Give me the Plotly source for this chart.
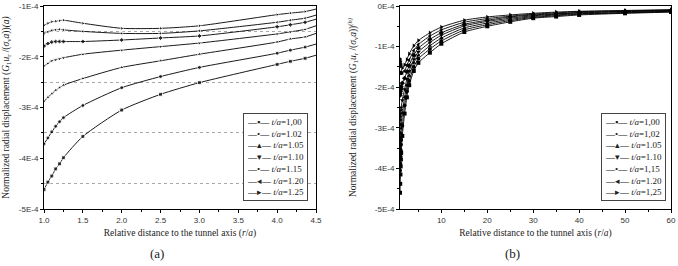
import plotly.graph_objects as go

# ---------------- data (values in units of 1E-4) ----------------
series_names = ["1,00", "1.02", "1.05", "1.10", "1.15", "1.20", "1.25"]
series_names_b = ["1,00", "1,02", "1.05", "1.10", "1,15", "1.20", "1,25"]
symbols = ["square", "circle", "triangle-up", "triangle-down", "diamond", "triangle-left", "triangle-right"]
legend_glyphs = ["▪", "•", "▴", "▾", "•", "◂", "▸"]

# panel (a)
xa = [1.0, 1.05, 1.1, 1.15, 1.2, 1.25, 1.5, 2.0, 2.5, 3.0, 4.0, 4.17, 4.36, 4.5]
ya_100 = [-4.62, -4.47, -4.35, -4.21, -4.11, -3.99, -3.57, -3.05, -2.74, -2.51, -2.15, -2.09, -2.03, -1.97]
ya_102 = [-3.72, -3.60, -3.48, -3.37, -3.28, -3.20, -2.96, -2.61, -2.39, -2.21, -1.93, -1.87, -1.81, -1.75]
ya_105 = [-2.88, -2.80, -2.73, -2.66, -2.61, -2.56, -2.43, -2.21, -2.08, -1.95, -1.71, -1.65, -1.61, -1.54]
ya_110 = [-2.18, -2.13, -2.08, -2.06, -2.04, -2.02, -1.95, -1.87, -1.80, -1.73, -1.55, -1.51, -1.46, -1.39]
ya_115 = [-1.79, -1.74, -1.71, -1.70, -1.70, -1.70, -1.70, -1.67, -1.63, -1.59, -1.41, -1.37, -1.32, -1.26]
ya_120 = [-1.54, -1.51, -1.48, -1.47, -1.46, -1.47, -1.50, -1.54, -1.54, -1.49, -1.32, -1.28, -1.24, -1.18]
ya_125 = [-1.38, -1.34, -1.31, -1.30, -1.29, -1.28, -1.34, -1.44, -1.44, -1.39, -1.17, -1.14, -1.11, -1.06]

# panel (b)
xb = [1.0, 1.05, 1.1, 1.15, 1.2, 1.25, 1.5, 2.0, 2.5, 3.0, 4.0, 5, 7.5, 10, 15, 20, 25, 30, 35, 40, 50, 60]
yb_100 = [-4.60, -4.38, -4.15, -3.95, -3.78, -3.62, -3.20, -2.65, -2.25, -1.95, -1.60, -1.40, -1.15, -0.93, -0.64, -0.50, -0.39, -0.30, -0.26, -0.22, -0.18, -0.15]
yb_102 = [-4.05, -3.88, -3.70, -3.55, -3.42, -3.30, -2.95, -2.45, -2.10, -1.85, -1.50, -1.30, -1.06, -0.86, -0.59, -0.46, -0.36, -0.28, -0.24, -0.20, -0.17, -0.14]
yb_105 = [-3.50, -3.38, -3.25, -3.13, -3.02, -2.93, -2.65, -2.25, -1.95, -1.72, -1.40, -1.22, -0.98, -0.79, -0.54, -0.42, -0.33, -0.26, -0.22, -0.19, -0.16, -0.13]
yb_110 = [-2.90, -2.80, -2.72, -2.64, -2.57, -2.50, -2.32, -2.05, -1.80, -1.60, -1.31, -1.13, -0.90, -0.72, -0.49, -0.38, -0.30, -0.24, -0.20, -0.17, -0.14, -0.12]
yb_115 = [-2.20, -2.15, -2.10, -2.06, -2.02, -1.98, -1.90, -1.78, -1.62, -1.47, -1.21, -1.04, -0.82, -0.66, -0.45, -0.35, -0.27, -0.22, -0.19, -0.16, -0.13, -0.11]
yb_120 = [-1.65, -1.64, -1.64, -1.64, -1.64, -1.65, -1.65, -1.60, -1.46, -1.33, -1.10, -0.95, -0.74, -0.59, -0.40, -0.31, -0.25, -0.20, -0.17, -0.14, -0.12, -0.10]
yb_125 = [-1.30, -1.33, -1.37, -1.41, -1.45, -1.48, -1.53, -1.45, -1.32, -1.18, -0.98, -0.85, -0.66, -0.52, -0.35, -0.27, -0.22, -0.18, -0.15, -0.13, -0.11, -0.09]

ticks_xa = [1.0, 1.5, 2.0, 2.5, 3.0, 3.5, 4.0, 4.5]
ticks_xa_text = ["1.0", "1.5", "2.0", "2.5", "3.0", "3.5", "4.0", "4.5"]
ticks_ya = [-1, -2, -3, -4, -5]
ticks_ya_text = ["-1E-4", "-2E-4", "-3E-4", "-4E-4", "-5E-4"]
ticks_xb = [10, 20, 30, 40, 50, 60]
ticks_xb_text = ["10", "20", "30", "40", "50", "60"]
ticks_yb = [0, -1, -2, -3, -4, -5]
ticks_yb_text = ["0E-4", "-1E-4", "-2E-4", "-3E-4", "-4E-4", "-5E-4"]

ys_a = [ya_100, ya_102, ya_105, ya_110, ya_115, ya_120, ya_125]
ys_b = [yb_100, yb_102, yb_105, yb_110, yb_115, yb_120, yb_125]

# ---------------- figure ----------------
W, H = 678, 266
ML, MR, MT, MB = 44, 7, 6, 57
PW, PH = W - ML - MR, H - MT - MB

def px_x(p):
    return (p - ML) / PW

def px_y(p):
    return (H - MB - p) / PH

fig = go.Figure()

for ys, sym in zip(ys_a, symbols):
    sizes = [4] * (len(xa) - 1) + [0]
    fig.add_trace(go.Scatter(
        x=xa, y=ys, mode="lines+markers", xaxis="x", yaxis="y",
        line=dict(color="black", width=0.9, shape="spline", smoothing=0.6),
        marker=dict(symbol=sym, size=sizes, color="black"),
        showlegend=False))

for ys, sym in zip(ys_b, symbols):
    fig.add_trace(go.Scatter(
        x=xb, y=ys, mode="lines+markers", xaxis="x2", yaxis="y2",
        line=dict(color="black", width=0.9, shape="spline", smoothing=0.6),
        marker=dict(symbol=sym, size=4, color="black"),
        showlegend=False))

tickfont = dict(family="Liberation Sans, Arial, sans-serif", size=8, color="#333")
titlefont = dict(family="Liberation Serif, Times New Roman, serif", size=9.5, color="#222")

axis_common = dict(showline=True, linecolor="black", linewidth=1, mirror=True,
                   ticks="outside", ticklen=3, tickcolor="black", showgrid=False,
                   zeroline=False, tickfont=tickfont, tickmode="array")

ytitle_a = ("Normalized radial displacement (<i>G</i><sub>1</sub><i>u</i><sub>r</sub> /(<i>σ</i><sub>v</sub><i>a</i>))"
            "<i>(a)</i>")
ytitle_b = ("Normalized radial displacement (<i>G</i><sub>1</sub><i>u</i><sub>r</sub> /(<i>σ</i><sub>v</sub><i>a</i>))"
            "<i><sup>(b)</sup></i>")
xtitle = "Relative distance to the tunnel axis (<i>r</i>/<i>a</i>)"

fig.update_layout(
    width=W, height=H,
    margin=dict(l=ML, r=MR, t=MT, b=MB, autoexpand=False),
    paper_bgcolor="white", plot_bgcolor="white",
    xaxis=dict(domain=[0, px_x(316)], range=[1, 4.5], tickvals=ticks_xa, ticktext=ticks_xa_text,
               minor=dict(tickmode="linear", tick0=1.25, dtick=0.5, ticks="outside", ticklen=2, tickcolor="black"),
               title=dict(text=xtitle, font=titlefont, standoff=5), **axis_common),
    yaxis=dict(domain=[0, 1], range=[-5, -1], tickvals=ticks_ya, ticktext=ticks_ya_text,
               minor=dict(tickmode="linear", tick0=-1.5, dtick=1, ticks="outside", ticklen=2, tickcolor="black",
                          showgrid=True, gridcolor="#a8a8a8", griddash="dot", gridwidth=0.8),
               title=dict(text=ytitle_a, font=titlefont, standoff=7), **axis_common),
    xaxis2=dict(domain=[px_x(400), 1], range=[1, 60], tickvals=ticks_xb, ticktext=ticks_xb_text,
                minor=dict(tickmode="linear", tick0=5, dtick=10, ticks="outside", ticklen=2, tickcolor="black"),
                anchor="y2", title=dict(text=xtitle, font=titlefont, standoff=5), **axis_common),
    yaxis2=dict(domain=[0, 1], range=[-5, 0], tickvals=ticks_yb, ticktext=ticks_yb_text,
                minor=dict(tickmode="linear", tick0=-0.5, dtick=1, ticks="outside", ticklen=2, tickcolor="black"),
                anchor="x2", title=dict(text=ytitle_b, font=titlefont, standoff=16), **axis_common),
)

legfont = dict(family="Liberation Serif, Times New Roman, serif", size=9, color="#222")

def legend_text(names):
    return "<br>".join(f"—{g}— <i>t/a</i>={n}" for g, n in zip(legend_glyphs, names))

fig.add_annotation(xref="paper", yref="paper", x=px_x(243), y=px_y(113), xanchor="left", yanchor="top",
                   text=legend_text(series_names), align="left", showarrow=False, font=legfont,
                   bgcolor="white", bordercolor="#444", borderwidth=1, borderpad=3)
fig.add_annotation(xref="paper", yref="paper", x=px_x(601), y=px_y(113), xanchor="left", yanchor="top",
                   text=legend_text(series_names_b), align="left", showarrow=False, font=legfont,
                   bgcolor="white", bordercolor="#444", borderwidth=1, borderpad=3)

capfont = dict(family="Liberation Serif, Times New Roman, serif", size=13, color="#222")
fig.add_annotation(xref="paper", yref="paper", x=px_x(157), y=px_y(253), text="(a)", showarrow=False,
                   font=capfont, xanchor="center", yanchor="middle")
fig.add_annotation(xref="paper", yref="paper", x=px_x(512), y=px_y(253), text="(b)", showarrow=False,
                   font=capfont, xanchor="center", yanchor="middle")

fig.write_html("out.html")
